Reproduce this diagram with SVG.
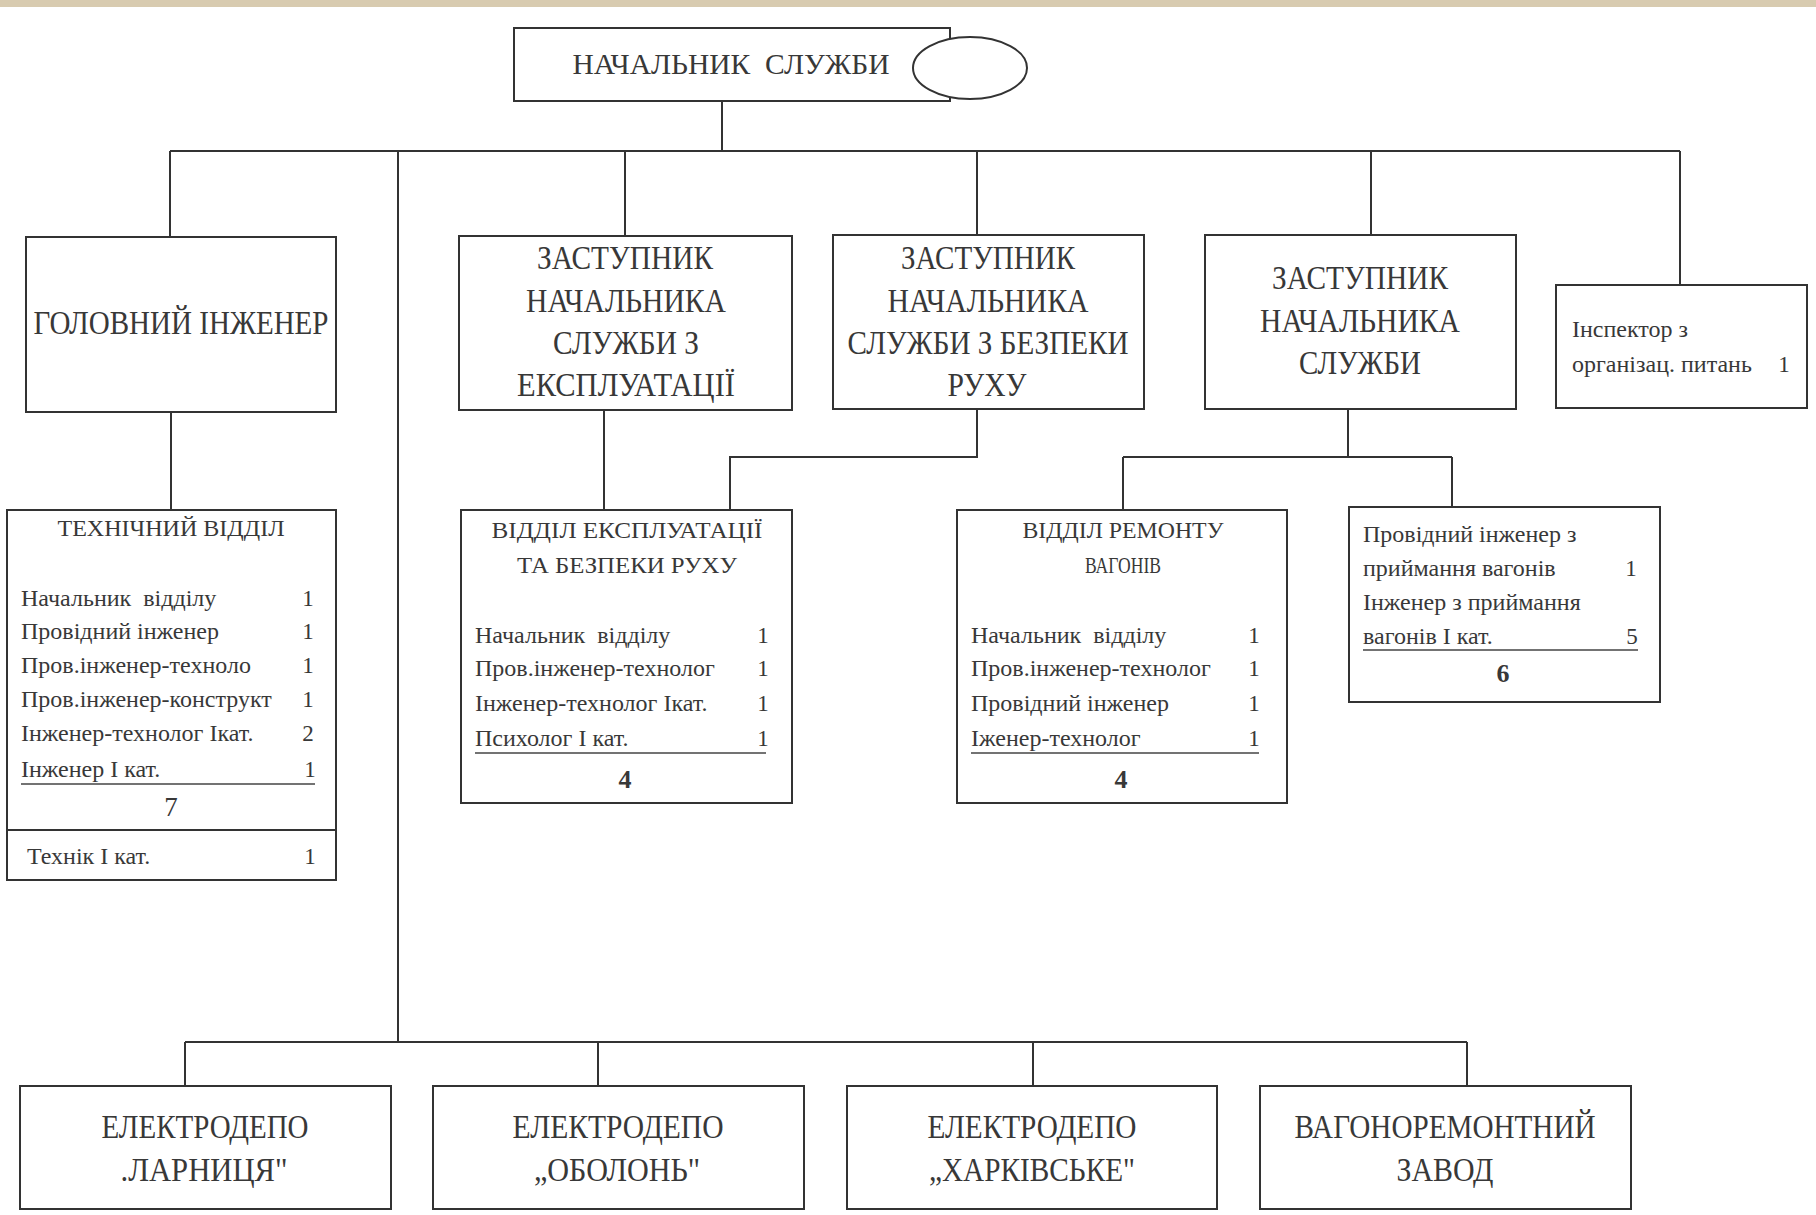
<svg xmlns="http://www.w3.org/2000/svg" width="1816" height="1215" viewBox="0 0 1816 1215">
<style>
.bx{fill:#fff;stroke:#333;stroke-width:2}
.ln{fill:none;stroke:#333;stroke-width:2}
.ul{fill:none;stroke:#444;stroke-width:1.5}
text{font-family:"Liberation Serif","DejaVu Serif",serif;fill:#383838;white-space:pre}
.big{font-size:33px;text-anchor:middle}
.bot{font-size:33px;text-anchor:middle}
.hd{font-size:24px;text-anchor:middle}
.row{font-size:24px}
.num{font-size:23px;text-anchor:middle}
.tot{font-size:26px;text-anchor:middle;font-weight:bold}
</style>
<rect x="0" y="0" width="1816" height="1215" fill="#fff"/>
<rect x="0" y="0" width="1816" height="7" fill="#d8cbb0"/>

<g id="connectors">
<path class="ln" d="M722 101V151M170 151H1680M170 151V237M625 151V236M977 151V234M1371 151V234M1680 151V285M398 151V1042"/>
<path class="ln" d="M171 412V510M604 410V510M977 409V457H730V510M1348 409V457M1123 457H1452M1123 457V510M1452 457V507"/>
<path class="ln" d="M185 1042H1467M185 1042V1086M598 1042V1086M1033 1042V1086M1467 1042V1086"/>
</g>

<g id="head">
<rect class="bx" x="514" y="28" width="436" height="73"/>
<ellipse cx="970" cy="68" rx="57" ry="31" fill="#fff" stroke="#333" stroke-width="2"/>
<text x="731" y="74" font-size="30" text-anchor="middle" textLength="317" lengthAdjust="spacingAndGlyphs" xml:space="preserve">НАЧАЛЬНИК  СЛУЖБИ</text>
</g>

<g id="chief-engineer">
<rect class="bx" x="26" y="237" width="310" height="175"/>
<text class="big" x="181" y="334" textLength="295" lengthAdjust="spacingAndGlyphs">ГОЛОВНИЙ ІНЖЕНЕР</text>
</g>

<g id="deputy-exploitation">
<rect class="bx" x="459" y="236" width="333" height="174"/>
<text class="big" x="625" y="269" textLength="176" lengthAdjust="spacingAndGlyphs">ЗАСТУПНИК</text>
<text class="big" x="626" y="312" textLength="200" lengthAdjust="spacingAndGlyphs">НАЧАЛЬНИКА</text>
<text class="big" x="626" y="354" textLength="146" lengthAdjust="spacingAndGlyphs">СЛУЖБИ З</text>
<text class="big" x="626" y="396" textLength="218" lengthAdjust="spacingAndGlyphs">ЕКСПЛУАТАЦІЇ</text>
</g>

<g id="deputy-safety">
<rect class="bx" x="833" y="235" width="311" height="174"/>
<text class="big" x="988" y="269" textLength="174" lengthAdjust="spacingAndGlyphs">ЗАСТУПНИК</text>
<text class="big" x="988" y="312" textLength="201" lengthAdjust="spacingAndGlyphs">НАЧАЛЬНИКА</text>
<text class="big" x="988" y="354" textLength="281" lengthAdjust="spacingAndGlyphs">СЛУЖБИ З БЕЗПЕКИ</text>
<text class="big" x="987" y="396" textLength="79" lengthAdjust="spacingAndGlyphs">РУХУ</text>
</g>

<g id="deputy">
<rect class="bx" x="1205" y="235" width="311" height="174"/>
<text class="big" x="1360" y="289" textLength="176" lengthAdjust="spacingAndGlyphs">ЗАСТУПНИК</text>
<text class="big" x="1360" y="332" textLength="200" lengthAdjust="spacingAndGlyphs">НАЧАЛЬНИКА</text>
<text class="big" x="1360" y="374" textLength="122" lengthAdjust="spacingAndGlyphs">СЛУЖБИ</text>
</g>

<g id="inspector">
<rect class="bx" x="1556" y="285" width="251" height="123"/>
<text class="row" x="1572" y="337" font-size="23">Інспектор з</text>
<text class="row" x="1572" y="372" font-size="23">організац. питань</text>
<text class="num" x="1784" y="372">1</text>
</g>

<g id="tech-dept">
<rect class="bx" x="7" y="510" width="329" height="370"/>
<path class="ln" d="M7 830H336"/>
<text class="hd" x="171" y="536" textLength="227" lengthAdjust="spacingAndGlyphs">ТЕХНІЧНИЙ ВІДДІЛ</text>
<text class="row" x="21" y="606" xml:space="preserve">Начальник  відділу</text><text class="num" x="308" y="606">1</text>
<text class="row" x="21" y="639">Провідний інженер</text><text class="num" x="308" y="639">1</text>
<text class="row" x="21" y="673">Пров.інженер-техноло</text><text class="num" x="308" y="673">1</text>
<text class="row" x="21" y="707">Пров.інженер-конструкт</text><text class="num" x="308" y="707">1</text>
<text class="row" x="21" y="741">Інженер-технолог Ікат.</text><text class="num" x="308" y="741">2</text>
<text class="row" x="21" y="777">Інженер І кат.</text><text class="num" x="310" y="777">1</text>
<path class="ul" d="M21 784H315"/>
<text x="171" y="816" font-size="27" text-anchor="middle">7</text>
<text class="row" x="27" y="864">Технік І кат.</text><text class="num" x="310" y="864">1</text>
</g>

<g id="exploitation-dept">
<rect class="bx" x="461" y="510" width="331" height="293"/>
<text class="hd" x="627" y="538" textLength="271" lengthAdjust="spacingAndGlyphs">ВІДДІЛ ЕКСПЛУАТАЦІЇ</text>
<text class="hd" x="627" y="573" textLength="220" lengthAdjust="spacingAndGlyphs">ТА БЕЗПЕКИ РУХУ</text>
<text class="row" x="475" y="643" xml:space="preserve">Начальник  відділу</text><text class="num" x="763" y="643">1</text>
<text class="row" x="475" y="676">Пров.інженер-технолог</text><text class="num" x="763" y="676">1</text>
<text class="row" x="475" y="711">Інженер-технолог Ікат.</text><text class="num" x="763" y="711">1</text>
<text class="row" x="475" y="746">Психолог І кат.</text><text class="num" x="763" y="746">1</text>
<path class="ul" d="M475 753H766"/>
<text class="tot" x="625" y="788">4</text>
</g>

<g id="repair-dept">
<rect class="bx" x="957" y="510" width="330" height="293"/>
<text class="hd" x="1123" y="538" textLength="201" lengthAdjust="spacingAndGlyphs">ВІДДІЛ РЕМОНТУ</text>
<text class="hd" x="1123" y="573" textLength="76" lengthAdjust="spacingAndGlyphs">ВАГОНІВ</text>
<text class="row" x="971" y="643" xml:space="preserve">Начальник  відділу</text><text class="num" x="1254" y="643">1</text>
<text class="row" x="971" y="676">Пров.інженер-технолог</text><text class="num" x="1254" y="676">1</text>
<text class="row" x="971" y="711">Провідний інженер</text><text class="num" x="1254" y="711">1</text>
<text class="row" x="971" y="746">Іженер-технолог</text><text class="num" x="1254" y="746">1</text>
<path class="ul" d="M971 753H1259"/>
<text class="tot" x="1121" y="788">4</text>
</g>

<g id="acceptance">
<rect class="bx" x="1349" y="507" width="311" height="195"/>
<text class="row" x="1363" y="542">Провідний інженер з</text>
<text class="row" x="1363" y="576">приймання вагонів</text><text class="num" x="1631" y="576">1</text>
<text class="row" x="1363" y="610">Інженер з приймання</text>
<text class="row" x="1363" y="644">вагонів І кат.</text><text class="num" x="1632" y="644">5</text>
<path class="ul" d="M1363 650H1638"/>
<text class="tot" x="1503" y="682">6</text>
</g>

<g id="depot-darnytsia">
<rect class="bx" x="20" y="1086" width="371" height="123"/>
<text class="bot" x="205" y="1138" textLength="207" lengthAdjust="spacingAndGlyphs">ЕЛЕКТРОДЕПО</text>
<text class="bot" x="204" y="1181" textLength="167" lengthAdjust="spacingAndGlyphs">.ЛАРНИЦЯ"</text>
</g>

<g id="depot-obolon">
<rect class="bx" x="433" y="1086" width="371" height="123"/>
<text class="bot" x="618" y="1138" textLength="211" lengthAdjust="spacingAndGlyphs">ЕЛЕКТРОДЕПО</text>
<text class="bot" x="617" y="1181" textLength="166" lengthAdjust="spacingAndGlyphs">„ОБОЛОНЬ"</text>
</g>

<g id="depot-kharkivske">
<rect class="bx" x="847" y="1086" width="370" height="123"/>
<text class="bot" x="1032" y="1138" textLength="209" lengthAdjust="spacingAndGlyphs">ЕЛЕКТРОДЕПО</text>
<text class="bot" x="1032" y="1181" textLength="206" lengthAdjust="spacingAndGlyphs">„ХАРКІВСЬКЕ"</text>
</g>

<g id="repair-plant">
<rect class="bx" x="1260" y="1086" width="371" height="123"/>
<text class="bot" x="1445" y="1138" textLength="301" lengthAdjust="spacingAndGlyphs">ВАГОНОРЕМОНТНИЙ</text>
<text class="bot" x="1445" y="1181" textLength="97" lengthAdjust="spacingAndGlyphs">ЗАВОД</text>
</g>
</svg>
